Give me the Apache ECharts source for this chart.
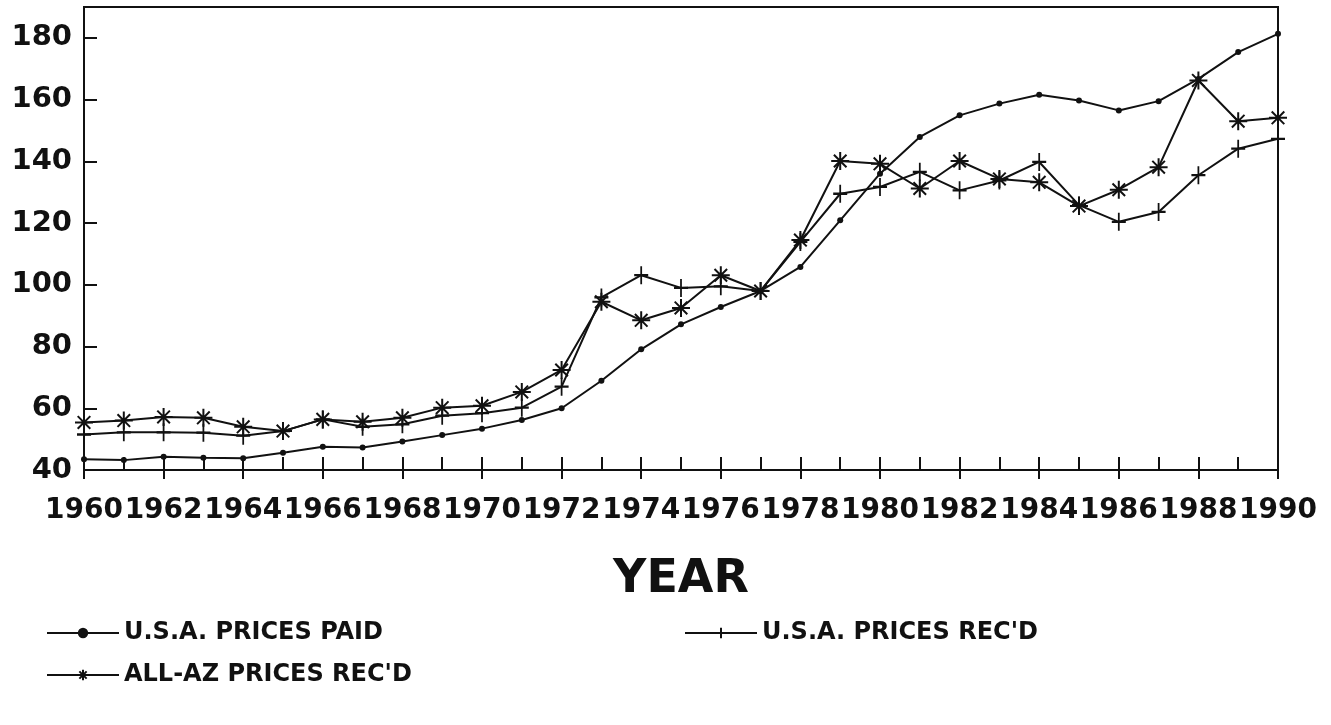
<!DOCTYPE html>
<html>
<head>
<meta charset="utf-8">
<script src="https://cdn.jsdelivr.net/npm/echarts@6/dist/echarts.min.js"></script>
<style>html,body{margin:0;padding:0;background:#fff;}#c{width:1331px;height:725px;}</style>
</head>
<body>
<div id="c"></div>
<script>
const years = [1960,1961,1962,1963,1964,1965,1966,1967,1968,1969,1970,1971,1972,1973,1974,1975,1976,1977,1978,1979,1980,1981,1982,1983,1984,1985,1986,1987,1988,1989,1990];
const usaPricesPaid = [43.5,43.2,44.3,44.0,43.8,45.6,47.5,47.3,49.2,51.3,53.4,56.2,60.0,68.9,79.1,87.2,92.8,98.0,105.8,120.9,136.0,147.9,154.9,158.7,161.6,159.7,156.5,159.5,166.7,175.4,181.3];
const usaPricesRecd = [51.5,52.2,52.2,52.1,51.1,52.6,56.4,54.0,54.8,57.6,58.4,60.2,67.0,95.9,103.1,99.0,99.5,98.0,113.9,129.5,131.7,136.6,130.6,133.8,139.8,125.8,120.4,123.6,135.5,144.1,147.3];
const allAzPricesRecd = [55.4,56.0,57.2,56.9,54.0,52.6,56.4,55.6,56.9,60.2,60.8,65.3,72.4,94.5,88.5,92.5,103.1,98.0,114.5,140.1,139.2,131.2,140.1,134.3,133.2,125.5,130.8,138.1,166.2,153.0,154.1];
const seriesNames = ['U.S.A. PRICES PAID', "U.S.A. PRICES REC'D", "ALL-AZ PRICES REC'D"];
const xAxisTitle = 'YEAR';

const ink = '#111';
const FONT = 'DejaVu Sans';
const plusPath = 'path://M0,-10L0,10M-8,0L8,0';
const starPath = 'path://M0,-10L0,10M-10,0L10,0M-7,-7L7,7M-7,7L7,-7';
const pairs = v => years.map((y, i) => [y, v[i]]);

const chart = echarts.init(document.getElementById('c'), null, {renderer: 'canvas'});
const legendText = {color: ink, fontFamily: FONT, fontWeight: 'bold', fontSize: 24};
const mkLegend = (name, left, top) => ({
  data: [name], left: left, top: top, orient: 'horizontal',
  itemWidth: 72, itemHeight: 13, itemGap: 14, selectedMode: false,
  textStyle: legendText, padding: 0
});
chart.setOption({
  animation: false,
  backgroundColor: '#fff',
  grid: {left: 84, right: 53, top: 7, bottom: 255, show: true, borderColor: ink, borderWidth: 2, backgroundColor: 'transparent'},
  legend: [
    mkLegend(seriesNames[0], 46, 621),
    mkLegend(seriesNames[1], 684, 621),
    mkLegend(seriesNames[2], 46, 663)
  ],
  xAxis: [
    {type: 'value', min: 1960, max: 1990, interval: 1, position: 'bottom',
     axisLine: {show: true, lineStyle: {color: ink, width: 2}},
     axisTick: {show: true, inside: true, length: 13, lineStyle: {color: ink, width: 2}},
     axisLabel: {show: false}, splitLine: {show: false},
     name: xAxisTitle, nameLocation: 'middle', nameGap: 87,
     nameTextStyle: {color: ink, fontFamily: FONT, fontWeight: 'bold', fontSize: 46}},
    {type: 'value', min: 1960, max: 1990, interval: 2, position: 'bottom',
     axisLine: {show: false},
     axisTick: {show: true, inside: false, length: 9, lineStyle: {color: ink, width: 2}},
     axisLabel: {show: true, margin: 27, color: ink, fontFamily: FONT, fontWeight: 'bold', fontSize: 28,
       formatter: v => String(v), showMinLabel: true, showMaxLabel: true, hideOverlap: false},
     splitLine: {show: false}}
  ],
  yAxis: {type: 'value', min: 40, max: 190, interval: 20,
    axisLine: {show: true, lineStyle: {color: ink, width: 2}},
    axisTick: {show: true, inside: true, length: 13, lineStyle: {color: ink, width: 2}},
    axisLabel: {margin: 12, color: ink, fontFamily: FONT, fontWeight: 'bold', fontSize: 29, showMaxLabel: false},
    splitLine: {show: false}},
  series: [
    {name: seriesNames[0], type: 'line', data: pairs(usaPricesPaid), xAxisIndex: 0,
     symbol: 'circle', symbolSize: 6, showAllSymbol: true,
     itemStyle: {color: ink}, lineStyle: {color: ink, width: 2}},
    {name: seriesNames[1], type: 'line', data: pairs(usaPricesRecd), xAxisIndex: 0,
     symbol: plusPath, symbolSize: [14, 18], showAllSymbol: true,
     itemStyle: {color: ink, borderColor: ink, borderWidth: 2}, lineStyle: {color: ink, width: 2}},
    {name: seriesNames[2], type: 'line', data: pairs(allAzPricesRecd), xAxisIndex: 0,
     symbol: starPath, symbolSize: 18, showAllSymbol: true,
     itemStyle: {color: ink, borderColor: ink, borderWidth: 2}, lineStyle: {color: ink, width: 2}}
  ]
});
</script>
</body>
</html>
